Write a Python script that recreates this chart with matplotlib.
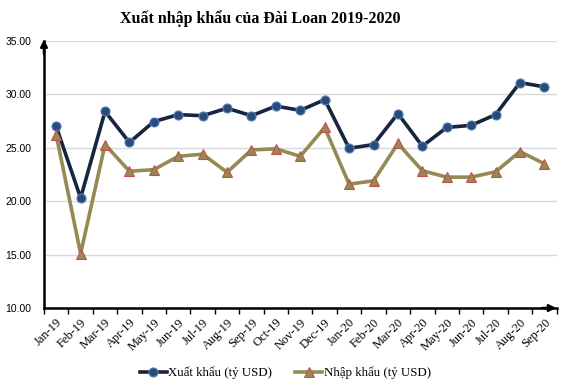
import numpy as np
import matplotlib.pyplot as plt

months = ['Jan-19', 'Feb-19', 'Mar-19', 'Apr-19', 'May-19', 'Jun-19', 'Jul-19',
          'Aug-19', 'Sep-19', 'Oct-19', 'Nov-19', 'Dec-19', 'Jan-20', 'Feb-20',
          'Mar-20', 'Apr-20', 'May-20', 'Jun-20', 'Jul-20', 'Aug-20', 'Sep-20']
xuat_khau = [27.0, 20.3, 28.4, 25.5, 27.45, 28.1, 28.0, 28.7, 28.0, 28.9, 28.5,
             29.5, 24.95, 25.3, 28.2, 25.15, 26.9, 27.1, 28.1, 31.1, 30.7]
nhap_khau = [26.2, 15.1, 25.3, 22.8, 22.95, 24.2, 24.4, 22.7, 24.8, 24.9, 24.2,
             26.9, 21.6, 21.9, 25.4, 22.85, 22.25, 22.25, 22.75, 24.65, 23.5]
y_ticks = [10, 15, 20, 25, 30, 35]

serif = 'Liberation Serif'

fig = plt.figure(figsize=(5.67, 3.86), dpi=100)
ax = fig.add_axes([0.0776, 0.202, 0.904, 0.692])

x = np.arange(len(months))

ax.plot(x, xuat_khau, color='#17253f', linewidth=2.6, marker='o', markersize=6.5,
        markerfacecolor='#2b4a75', markeredgecolor='#4f7fbf', markeredgewidth=0.8,
        label='Xuất khẩu (tỷ USD)', zorder=3)
ax.plot(x, nhap_khau, color='#948a54', linewidth=2.6, marker='^', markersize=6.5,
        markerfacecolor='#948a54', markeredgecolor='#c0504d', markeredgewidth=0.8,
        label='Nhập khẩu (tỷ USD)', zorder=3)

ax.set_xlim(-0.5, len(months) - 0.5)
ax.set_ylim(10, 35)

# y axis
ax.set_yticks(y_ticks)
ax.set_yticklabels([f'{v:.2f}' for v in y_ticks], fontsize=7.5, family='Liberation Sans')
ax.tick_params(axis='y', length=0, pad=9)
ax.yaxis.grid(True, color='#d9d9d9', linewidth=1)
ax.set_axisbelow(True)

# x axis: labels at centers, ticks at boundaries
ax.set_xticks(x)
ax.set_xticklabels(months, rotation=45, ha='right', rotation_mode='anchor',
                   fontsize=9, family=serif)
ax.tick_params(axis='x', which='major', length=0, pad=6)
ax.set_xticks(np.arange(-0.5, len(months)), minor=True)
ax.tick_params(axis='x', which='minor', length=4, width=1, color='black')

for s in ['top', 'right']:
    ax.spines[s].set_visible(False)
for s in ['left', 'bottom']:
    ax.spines[s].set_linewidth(1.8)
    ax.spines[s].set_color('black')

# arrow heads on the axes
ax.annotate('', xy=(-0.5, 35.4), xytext=(-0.5, 33.5),
            arrowprops=dict(arrowstyle='-|>', color='black', lw=1.8,
                            mutation_scale=10), annotation_clip=False)
ax.annotate('', xy=(20.6, 10), xytext=(19.8, 10),
            arrowprops=dict(arrowstyle='-|>', color='black', lw=1.8,
                            mutation_scale=10), annotation_clip=False)

fig.suptitle('Xuất nhập khẩu của Đài Loan 2019-2020', x=0.459, y=0.975,
             fontsize=11.5, fontweight='bold', family=serif)

fig.legend(loc='center', bbox_to_anchor=(0.503, 0.034), ncol=2, frameon=False,
           prop={'family': serif, 'size': 9.3}, handlelength=2.1,
           columnspacing=1.8, handletextpad=0.1)

fig.savefig('out.png', dpi=100)
